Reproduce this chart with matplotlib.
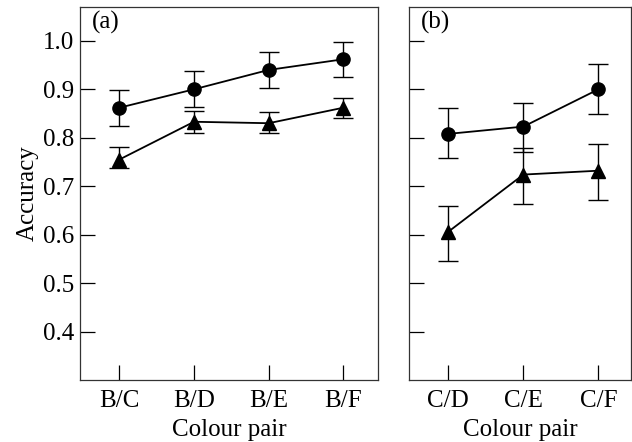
import matplotlib
matplotlib.use('Agg')
import numpy as np
import matplotlib.pyplot as plt

# panel (a)
pairs_a = ['B/C', 'B/D', 'B/E', 'B/F']
circ_a = [0.862, 0.900, 0.940, 0.962]
circ_a_lo = [0.825, 0.864, 0.902, 0.926]
circ_a_hi = [0.899, 0.938, 0.978, 0.998]
tri_a = [0.755, 0.833, 0.830, 0.862]
tri_a_lo = [0.737, 0.810, 0.810, 0.840]
tri_a_hi = [0.780, 0.855, 0.853, 0.883]

# panel (b)
pairs_b = ['C/D', 'C/E', 'C/F']
circ_b = [0.808, 0.823, 0.900]
circ_b_lo = [0.758, 0.771, 0.848]
circ_b_hi = [0.861, 0.871, 0.952]
tri_b = [0.606, 0.724, 0.732]
tri_b_lo = [0.545, 0.663, 0.672]
tri_b_hi = [0.659, 0.779, 0.787]

yticks = [0.4, 0.5, 0.6, 0.7, 0.8, 0.9, 1.0]

plt.rcParams['font.family'] = ['Liberation Serif', 'DejaVu Serif']
plt.rcParams['font.size'] = 18

fig = plt.figure(figsize=(6.32, 4.42), dpi=100)
ax1 = fig.add_axes([0.1266, 0.1403, 0.471, 0.844])
ax2 = fig.add_axes([0.6476, 0.1403, 0.3516, 0.844])


def draw(ax, labels, c, clo, chi, t, tlo, thi):
    x = np.arange(len(labels))
    c, clo, chi = np.array(c), np.array(clo), np.array(chi)
    t, tlo, thi = np.array(t), np.array(tlo), np.array(thi)
    ax.errorbar(x, c, yerr=[c - clo, chi - c], color='black', lw=1.3,
                marker='o', ms=9.5, capsize=7.5, elinewidth=1.0, capthick=1.0)
    ax.errorbar(x, t, yerr=[t - tlo, thi - t], color='black', lw=1.3,
                marker='^', ms=10, capsize=7.5, elinewidth=1.0, capthick=1.0)
    ax.set_xticks(x)
    ax.set_xticklabels(labels)
    ax.set_ylim(0.3, 1.07)
    ax.set_yticks(yticks)
    ax.set_xlabel('Colour pair', labelpad=5)
    ax.tick_params(direction='in', length=11, width=0.9, pad=4)
    ax.tick_params(axis='x', pad=7)
    for s in ax.spines.values():
        s.set_linewidth(0.9)
        s.set_color('#333333')


draw(ax1, pairs_a, circ_a, circ_a_lo, circ_a_hi, tri_a, tri_a_lo, tri_a_hi)
ax1.set_xlim(-0.527, 3.46)
ax1.set_yticklabels(['%.1f' % v for v in yticks])
ax1.set_ylabel('Accuracy', labelpad=3)
ax1.text(0.04, 0.99, '(a)', transform=ax1.transAxes, va='top', ha='left')

draw(ax2, pairs_b, circ_b, circ_b_lo, circ_b_hi, tri_b, tri_b_lo, tri_b_hi)
ax2.set_xlim(-0.52, 2.44)
ax2.set_yticklabels([])
ax2.text(0.05, 0.99, '(b)', transform=ax2.transAxes, va='top', ha='left')

fig.savefig('out.png', dpi=100)
